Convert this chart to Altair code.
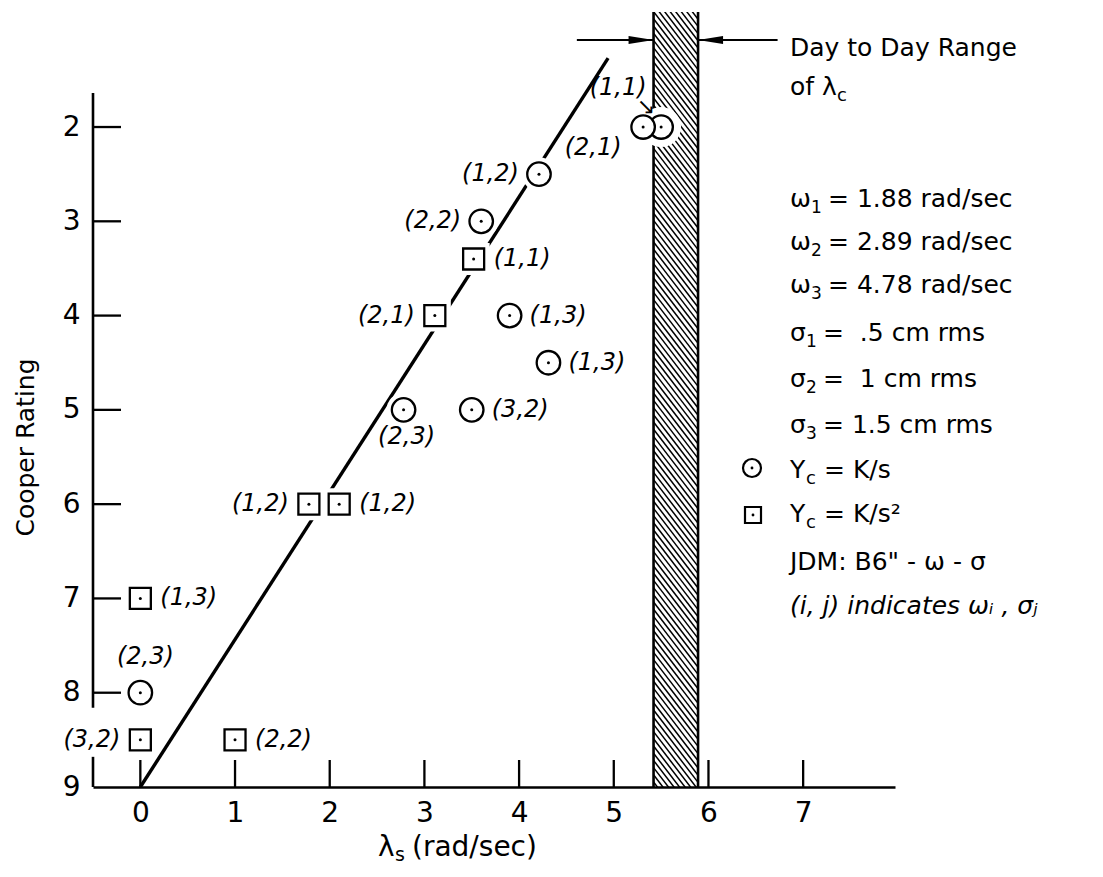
import altair as alt
import numpy as np
import pandas as pd

# ---------------- data ----------------
# Y_c = K/s  (circles)
circle_x = [5.50, 5.31, 4.21, 3.60, 3.90, 4.31, 3.50, 2.78, 0.00]
circle_y = [2.0, 2.0, 2.5, 3.0, 4.0, 4.5, 5.0, 5.0, 8.0]
circle_lbl = ["(1,1)", "(2,1)", "(1,2)", "(2,2)", "(1,3)", "(1,3)", "(3,2)", "(2,3)", "(2,3)"]
circle_side = ["upleft", "downleft", "left", "left", "right", "right", "right", "below", "above"]

# Y_c = K/s^2  (squares)
square_x = [3.52, 3.11, 1.78, 2.10, 0.00, 0.00, 1.00]
square_y = [3.4, 4.0, 6.0, 6.0, 7.0, 8.5, 8.5]
square_lbl = ["(1,1)", "(2,1)", "(1,2)", "(1,2)", "(1,3)", "(3,2)", "(2,2)"]
square_side = ["right", "left", "left", "right", "right", "left", "right"]

# straight line through the data
fit_x = [0.0, 4.94]
fit_y = [9.0, 1.27]

# day to day range of lambda_c (shaded band)
band_lo = 5.42
band_hi = 5.89
arrow_from = [4.61, 6.73]
arrow_to = [5.42, 5.89]
arrow_dir = ["right", "left"]

x_ticks = [0, 1, 2, 3, 4, 5, 6, 7]
y_ticks = [2, 3, 4, 5, 6, 7, 8, 9]
y_inner_ticks = [2, 3, 4, 5, 6, 7, 8]
yaxis_from = [1.64, 8.68]
yaxis_to = [8.16, 9.0]

# right-hand annotation text
NB = "\u00a0"
param_sym = ["ω", "ω", "ω", "σ", "σ", "σ"]
param_sub = ["1", "2", "3", "1", "2", "3"]
param_rest = ["= 1.88 rad/sec", "= 2.89 rad/sec", "= 4.78 rad/sec",
              "=" + NB + NB + ".5 cm rms", "=" + NB + NB + "1 cm rms", "= 1.5 cm rms"]

FONT = "DejaVu Sans"
W, H = 802, 775
X_DOM = [-0.5, 7.97]
Y_DOM = [0.78, 9.0]

xs = alt.Scale(domain=X_DOM, nice=False, zero=False)
ys = alt.Scale(domain=Y_DOM, reverse=True, nice=False, zero=False)

x_axis = alt.Axis(values=x_ticks, title="", grid=False, ticks=False, tickSize=0,
                  domain=True, domainColor="black", domainWidth=2.5,
                  labelFont=FONT, labelFontSize=28, labelColor="black", labelPadding=12,
                  labelFlush=False)
y_axis = alt.Axis(values=y_ticks, title="Cooper Rating", grid=False, ticks=False, tickSize=0,
                  domain=False, labelFont=FONT, labelFontSize=28, labelColor="black",
                  labelPadding=13, labelFlush=False, titleFont=FONT, titleFontSize=25,
                  titleFontWeight="normal", titleColor="black", titleX=-60, titleY=435,
                  titleAngle=270, titleAlign="center", titleBaseline="alphabetic")


def X(f):
    return alt.X(f, type="quantitative", scale=xs, axis=x_axis)


def Y(f):
    return alt.Y(f, type="quantitative", scale=ys, axis=y_axis)


circ = pd.DataFrame({"x": circle_x, "y": circle_y, "lbl": circle_lbl, "side": circle_side})
sq = pd.DataFrame({"x": square_x, "y": square_y, "lbl": square_lbl, "side": square_side})
pts = pd.concat([circ, sq], ignore_index=True)
fit = pd.DataFrame({"x": fit_x, "y": fit_y})
ONE = pd.DataFrame({"k": [0]})

# hatch texture for the shaded band (a fill pattern, not data)
_u = (Y_DOM[1] - Y_DOM[0]) / H
_drop = 58 * _u
hatch_y0 = np.arange(Y_DOM[0] - _drop, Y_DOM[1], 7.2 * _u)
hatch = pd.DataFrame({"x": band_lo, "x2": band_hi, "y": hatch_y0, "y2": hatch_y0 + _drop})
band = pd.DataFrame({"x": [band_lo, band_hi]})

layers = []
layers.append(alt.Chart(hatch).mark_rule(color="black", strokeWidth=1.5, clip=True).encode(
    x=X("x"), x2="x2", y=Y("y"), y2="y2"))
layers.append(alt.Chart(band).mark_rule(color="black", strokeWidth=2.6).encode(
    x=X("x"), y=alt.value(0), y2=alt.value(H)))
layers.append(alt.Chart(fit).mark_line(color="black", strokeWidth=3.4).encode(x=X("x"), y=Y("y")))

# white halos that interrupt the line / hatching around the markers
layers.append(alt.Chart(circ).transform_filter("datum.x > 5").mark_point(
    shape="circle", filled=True, color="white", opacity=1, size=1600).encode(x=X("x"), y=Y("y")))
layers.append(alt.Chart(circ).mark_point(
    shape="circle", filled=True, color="white", opacity=1, size=1156).encode(x=X("x"), y=Y("y")))
layers.append(alt.Chart(sq).mark_point(
    shape="square", filled=True, color="white", opacity=1, size=1024).encode(x=X("x"), y=Y("y")))

layers.append(alt.Chart(circ).mark_point(
    shape="circle", filled=True, fill="white", stroke="black", strokeWidth=2.3, opacity=1,
    size=552).encode(x=X("x"), y=Y("y")))
layers.append(alt.Chart(sq).mark_point(
    shape="square", filled=True, fill="white", stroke="black", strokeWidth=2.3, opacity=1,
    size=441).encode(x=X("x"), y=Y("y")))
layers.append(alt.Chart(pts).mark_point(
    shape="circle", filled=True, color="black", opacity=1, size=9).encode(x=X("x"), y=Y("y")))

offsets = {
    "left": ("right", -20, 0),
    "right": ("left", 20, 0),
    "above": ("center", 5, -36),
    "below": ("center", 3, 27),
    "upleft": ("center", -43, -39),
    "downleft": ("center", -50, 21),
}
for side, (al, dx, dy) in offsets.items():
    layers.append(alt.Chart(pts).transform_filter(f"datum.side == '{side}'").mark_text(
        font=FONT, fontSize=24, fontStyle="italic", color="black", align=al,
        baseline="middle", dx=dx, dy=dy).encode(x=X("x"), y=Y("y"), text="lbl:N"))

# little arrow from the (1,1) label to its circle
layers.append(alt.Chart(circ).transform_filter("datum.side == 'upleft'").mark_text(
    text="→", font=FONT, fontSize=22, color="black", angle=45, align="center",
    baseline="middle", dx=-24.7, dy=-3.5).encode(x=X("x"), y=Y("y")))

# axis decorations: y axis line (broken), inward ticks
yl = pd.DataFrame({"a": yaxis_from, "b": yaxis_to})
layers.append(alt.Chart(yl).mark_rule(color="black", strokeWidth=2.6).encode(
    x=alt.value(0), y=Y("a"), y2="b"))
layers.append(alt.Chart(pd.DataFrame({"v": y_inner_ticks})).mark_rule(
    color="black", strokeWidth=2.3).encode(y=Y("v"), x=alt.value(0), x2=alt.value(28)))
layers.append(alt.Chart(pd.DataFrame({"v": x_ticks})).mark_rule(
    color="black", strokeWidth=2.3).encode(x=X("v"), y=alt.value(H), y2=alt.value(H - 27)))

# arrows marking the band
arr = pd.DataFrame({"s": arrow_from, "e": arrow_to, "d": arrow_dir})
layers.append(alt.Chart(arr).mark_rule(color="black", strokeWidth=2).encode(
    x=X("s"), x2="e", y=alt.value(28)))
layers.append(alt.Chart(arr).transform_filter("datum.d == 'right'").mark_point(
    shape="M0,0L-1,-0.16L-1,0.16Z", filled=True, color="black", opacity=1, size=2500).encode(
    x=X("e"), y=alt.value(28)))
layers.append(alt.Chart(arr).transform_filter("datum.d == 'left'").mark_point(
    shape="M0,0L1,-0.16L1,0.16Z", filled=True, color="black", opacity=1, size=2500).encode(
    x=X("e"), y=alt.value(28)))


def txt(t, x, y, size=25, style="normal"):
    return alt.Chart(ONE).mark_text(
        text=t, font=FONT, fontSize=size, fontStyle=style, color="black", align="left",
        baseline="alphabetic").encode(x=alt.value(x), y=alt.value(y))


# x axis title: lambda_s (rad/sec)
layers.append(txt("λ", 285, 844, 28))
layers.append(txt("s", 302, 849, 19))
layers.append(txt("(rad/sec)", 319, 844, 28))

# ---------------- annotation text on the right ----------------
LEG_X = 697
layers.append(txt("Day to Day Range", LEG_X, 44))
layers.append(txt("of λ", LEG_X, 83))
layers.append(txt("c", LEG_X + 47, 89, 18))

param_base = [195, 238, 281, 329, 375, 421]
for sym, sub, rest, b in zip(param_sym, param_sub, param_rest, param_base):
    w = 21 if sym == "ω" else 16
    layers.append(txt(sym, LEG_X, b))
    layers.append(txt(sub, LEG_X + w, b + 6, 17))
    layers.append(txt(rest, LEG_X + w + 17, b))

for rest, b in zip(["= K/s", "= K/s²"], [466, 510]):
    layers.append(txt("Y", LEG_X, b))
    layers.append(txt("c", LEG_X + 16, b + 6, 18))
    layers.append(txt(rest, LEG_X + 34, b))

layers.append(txt('JDM: B6" - ω - σ', LEG_X, 558))
layers.append(txt("(i, j) indicates ωᵢ , σⱼ", LEG_X, 602, 25, "italic"))

# legend symbols
layers.append(alt.Chart(ONE).mark_point(
    shape="circle", filled=True, fill="white", stroke="black", strokeWidth=2.2, opacity=1,
    size=324).encode(x=alt.value(659), y=alt.value(456)))
layers.append(alt.Chart(ONE).mark_point(
    shape="square", filled=True, fill="white", stroke="black", strokeWidth=2.2, opacity=1,
    size=256).encode(x=alt.value(660), y=alt.value(503)))
layers.append(alt.Chart(ONE).mark_point(
    shape="circle", filled=True, color="black", opacity=1, size=8).encode(
    x=alt.value(659), y=alt.value(456)))
layers.append(alt.Chart(ONE).mark_point(
    shape="circle", filled=True, color="black", opacity=1, size=8).encode(
    x=alt.value(660), y=alt.value(503)))

chart = alt.layer(*layers).properties(
    width=W, height=H,
    padding={"left": 85, "top": 4, "right": 200, "bottom": 80},
    autosize=alt.AutoSizeParams(type="none"),
    background="white",
).configure_view(stroke=None)

chart.save("out.html", embed_options={"renderer": "svg", "actions": False})
